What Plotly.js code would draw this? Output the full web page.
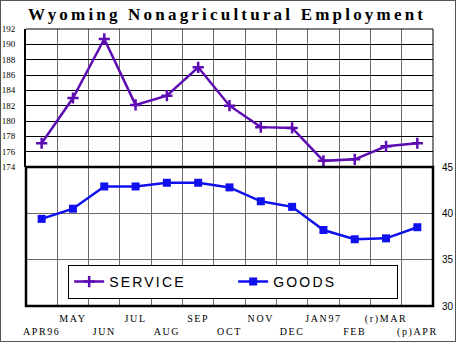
<!DOCTYPE html>
<html>
<head>
<meta charset="utf-8">
<script src="https://cdn.plot.ly/plotly-3.0.1.min.js"></script>
<style>
html,body{margin:0;padding:0;background:#fff;}
#wrap{position:relative;width:457px;height:343px;}
#chart{width:457px;height:343px;}
#frame{position:absolute;left:0;top:0;width:454px;height:340px;border:1px solid #555;pointer-events:none;}
.gtitle{letter-spacing:3.2px;}
.xtick text{letter-spacing:1.6px;}
.legendtext{letter-spacing:2.2px;}
</style>
</head>
<body>
<div id="wrap"><div id="chart"></div><div id="frame"></div></div>
<script>
const months = ['APR96','MAY','JUN','JUL','AUG','SEP','OCT','NOV','DEC','JAN97','FEB','(r)MAR','(p)APR'];
const service = [177.1, 183.0, 190.7, 182.1, 183.3, 187.0, 182.0, 179.2, 179.1, 174.8, 175.0, 176.7, 177.1];
const goods = [39.4, 40.5, 42.9, 42.9, 43.3, 43.3, 42.8, 41.3, 40.7, 38.2, 37.2, 37.3, 38.5];
const serviceTicks = [174,176,178,180,182,184,186,188,190,192];
const goodsTicks = [30,35,40,45];

const xIdx = months.map((m,i)=>i);
const tickText = months.map((m,i)=> i%2===0 ? ' <br>'+m : m);

const purple = '#5C0CB2';
const blue = '#1010EE';
const split = (306-167)/277;

const traces = [
  {x:xIdx, y:service, name:'SERVICE', type:'scatter', mode:'lines+markers', xaxis:'x', yaxis:'y',
   line:{color:purple, width:2.5},
   marker:{symbol:'cross-thin', size:8, color:purple, line:{color:purple, width:2.5}}},
  {x:xIdx, y:goods, name:'GOODS', type:'scatter', mode:'lines+markers', xaxis:'x', yaxis:'y2',
   line:{color:blue, width:2.5},
   marker:{symbol:'square', size:8, color:blue}}
];

const layout = {
  width:457, height:343,
  margin:{l:26, r:24, t:29, b:37, pad:0},
  paper_bgcolor:'#fff', plot_bgcolor:'#fff',
  title:{text:'<b>Wyoming Nonagricultural Employment</b>', x:0.497, xanchor:'center', y:0.958, yanchor:'middle',
         font:{family:'Liberation Serif, serif', size:17, color:'#000'}},
  showlegend:true,
  legend:{orientation:'h', x:0.509, xanchor:'center', y:(306-265)/277, yanchor:'top',
          bgcolor:'#fff', bordercolor:'#000', borderwidth:1,
          font:{family:'Liberation Sans, sans-serif', size:14, color:'#000'},
          entrywidth:119, entrywidthmode:'pixels', itemwidth:30, tracegroupgap:0},
  xaxis:{type:'linear', range:[-0.5,12.5], anchor:'y2', tickvals:xIdx, ticktext:tickText, tickangle:0,
         showgrid:false, zeroline:false, showline:false, ticks:'', ticklabelstandoff:5,
         tickfont:{family:'Liberation Serif, serif', size:10, color:'#000'},
         minor:{tick0:0.5, dtick:1, showgrid:true, gridcolor:'#6a6a6a', gridwidth:1, ticks:''}},
  yaxis:{domain:[split,1], range:[174,192], tickvals:serviceTicks, anchor:'x',
         showgrid:true, gridcolor:'#000', gridwidth:1, zeroline:false,
         showline:true, linecolor:'#000', linewidth:2, ticks:'', ticklabelstandoff:7,
         tickfont:{family:'Liberation Serif, serif', size:9, color:'#000'}},
  yaxis2:{domain:[0,split], range:[30,45], tickvals:goodsTicks, anchor:'x', side:'right',
          showgrid:true, gridcolor:'#6a6a6a', gridwidth:1, zeroline:false,
          showline:false, ticks:'', ticklabelstandoff:8,
          tickfont:{family:'Liberation Sans, sans-serif', size:10, color:'#000'}},
  shapes:[
    {type:'rect', xref:'paper', yref:'paper', x0:0, x1:1, y0:0, y1:split, line:{color:'#000', width:2.5}, layer:'above'},
    {type:'line', xref:'paper', yref:'paper', x0:1, x1:1, y0:split, y1:1, line:{color:'#000', width:1}, layer:'above'},
    {type:'line', xref:'paper', yref:'paper', x0:0, x1:1, y0:1, y1:1, line:{color:'#000', width:1}, layer:'above'}
  ]
};

Plotly.newPlot('chart', traces, layout, {displayModeBar:false, staticPlot:true});
</script>
</body>
</html>
